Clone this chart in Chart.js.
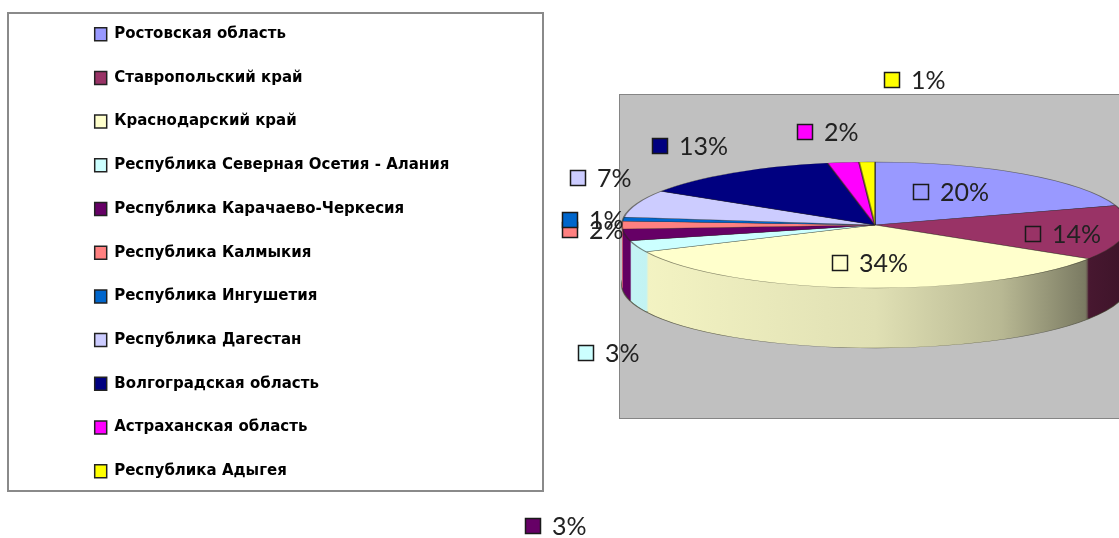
<!DOCTYPE html>
<html lang="ru">
<head>
<meta charset="utf-8">
<title>Доли регионов</title>
<script src="https://cdn.jsdelivr.net/npm/chart.js@4.4.1/dist/chart.umd.min.js"></script>
<style>
  html, body { margin: 0; padding: 0; background: #fff; }
  #chart { display: block; }
</style>
</head>
<body>
<canvas id="chart" width="1119" height="538" style="width:1119px;height:538px"></canvas>
<script>
const regions = [
  'Ростовская область',
  'Ставропольский край',
  'Краснодарский край',
  'Республика Северная Осетия - Алания',
  'Республика Карачаево-Черкесия',
  'Республика Калмыкия',
  'Республика Ингушетия',
  'Республика Дагестан',
  'Волгоградская область',
  'Астраханская область',
  'Республика Адыгея'
];
const shares = [20, 14, 34, 3, 3, 2, 1, 7, 13, 2, 1];
const sliceColors = ['#9999FF', '#993366', '#FFFFCC', '#CCFFFF', '#660066', '#FF8080',
  '#0066CC', '#CCCCFF', '#000080', '#FF00FF', '#FFFF00'];

// label nudges (px) from the slice's outer rim point, as placed in the original
const labelNudges = [[-111, 18], [-101, 1], [-27, -25], [-59, 107], [-100, 291], [-60, 5],
  [-61, 1], [-67, -26], [-81, -27], [-46, -30], [17, -82]];

function shade(hex, f) {
  const n = parseInt(hex.slice(1), 16);
  const r = Math.round(((n >> 16) & 255) * f);
  const g = Math.round(((n >> 8) & 255) * f);
  const b = Math.round((n & 255) * f);
  return `rgb(${r},${g},${b})`;
}

// frame of the legend and the grey plot area
const frames = {
  id: 'frames',
  beforeDraw(chart, args, o) {
    const ctx = chart.ctx;
    ctx.save();
    ctx.strokeStyle = '#8a8a8a';
    ctx.lineWidth = 2;
    ctx.strokeRect(o.legend[0], o.legend[1], o.legend[2], o.legend[3]);
    ctx.fillStyle = '#c0c0c0';
    ctx.fillRect(o.plot[0], o.plot[1], o.plot[2], o.plot[3]);
    ctx.strokeStyle = '#858585';
    ctx.lineWidth = 1;
    ctx.strokeRect(o.plot[0] + 0.5, o.plot[1] + 0.5, o.plot[2], o.plot[3]);
    ctx.restore();
  }
};

// squash the pie into a tilted disc and give it a side wall
const pie3d = {
  id: 'pie3d',
  beforeDatasetsDraw(chart, args, o) {
    const ctx = chart.ctx;
    const arcs = chart.getDatasetMeta(0).data;
    const base = arcs[0];
    const R = base.outerRadius;
    const place = (dy) => {
      ctx.translate(o.cx, o.cy + dy);
      ctx.scale(o.rx / R, o.ry / R);
      ctx.translate(-base.x, -base.y);
    };
    const walls = arcs.map((arc, i) => {
      const g = ctx.createLinearGradient(base.x - R, 0, base.x + R, 0);
      g.addColorStop(0, shade(sliceColors[i], 0.96));
      g.addColorStop(0.5, shade(sliceColors[i], 0.88));
      g.addColorStop(0.75, shade(sliceColors[i], 0.72));
      g.addColorStop(0.93, shade(sliceColors[i], 0.46));
      g.addColorStop(1, shade(sliceColors[i], 0.4));
      return g;
    });
    for (let d = o.depth; d > 0; d--) {
      arcs.forEach((arc, i) => {
        const saved = arc.options;
        arc.options = Object.assign({}, saved, {
          backgroundColor: walls[i],
          borderWidth: d === o.depth ? 2 : 0,
          borderColor: 'rgba(60,60,40,0.7)'
        });
        ctx.save();
        place(d);
        arc.draw(ctx);
        ctx.restore();
        arc.options = saved;
      });
    }
    ctx.save();
    place(0);
  },
  afterDatasetsDraw(chart) {
    chart.ctx.restore();
  },
  afterDraw(chart, args, o) {
    const ctx = chart.ctx;
    const arcs = chart.getDatasetMeta(0).data;
    const total = shares.reduce((a, b) => a + b, 0);
    ctx.save();
    ctx.font = '25px Lato';
    ctx.textBaseline = 'middle';
    arcs.forEach((arc, i) => {
      const mid = (arc.startAngle + arc.endAngle) / 2;
      const x = Math.round(o.cx + o.rx * Math.cos(mid) + labelNudges[i][0]);
      const y = Math.round(o.cy + o.ry * Math.sin(mid) + labelNudges[i][1]);
      ctx.fillStyle = sliceColors[i];
      ctx.fillRect(x, y - 8, 16, 16);
      ctx.strokeStyle = '#1a1a1a';
      ctx.lineWidth = 1.5;
      ctx.strokeRect(x + 0.5, y - 7.5, 15, 15);
      ctx.fillStyle = '#222';
      ctx.fillText(Math.round(shares[i] / total * 100) + '%', x + 27, y + 1);
    });
    ctx.restore();
  }
};

const ctx = document.getElementById('chart').getContext('2d');
const baseLabels = Chart.overrides.doughnut.plugins.legend.labels.generateLabels;

new Chart(ctx, {
  type: 'doughnut',
  data: {
    labels: regions,
    datasets: [{
      data: shares,
      backgroundColor: sliceColors,
      borderColor: 'rgba(40,40,30,0.55)',
      borderWidth: 2,
      clip: false
    }]
  },
  options: {
    responsive: false,
    devicePixelRatio: 1,
    animation: false,
    events: [],
    cutout: 0,
    layout: { padding: { left: 66, top: -2, right: 0, bottom: 0 } },
    plugins: {
      tooltip: { enabled: false },
      legend: {
        position: 'left',
        align: 'start',
        labels: {
          boxWidth: 12,
          boxHeight: 13,
          padding: 28.7,
          color: '#000',
          font: { family: 'DejaVu Sans', size: 15, weight: 'bold' },
          generateLabels(chart) {
            return baseLabels(chart).map(item => Object.assign(item, { lineWidth: 1.5, strokeStyle: '#222' }));
          }
        }
      },
      frames: { legend: [8, 13, 535, 478], plot: [619, 94, 520, 324] },
      pie3d: { cx: 875, cy: 225, rx: 253, ry: 63, depth: 60 }
    }
  },
  plugins: [frames, pie3d]
});
</script>
</body>
</html>
